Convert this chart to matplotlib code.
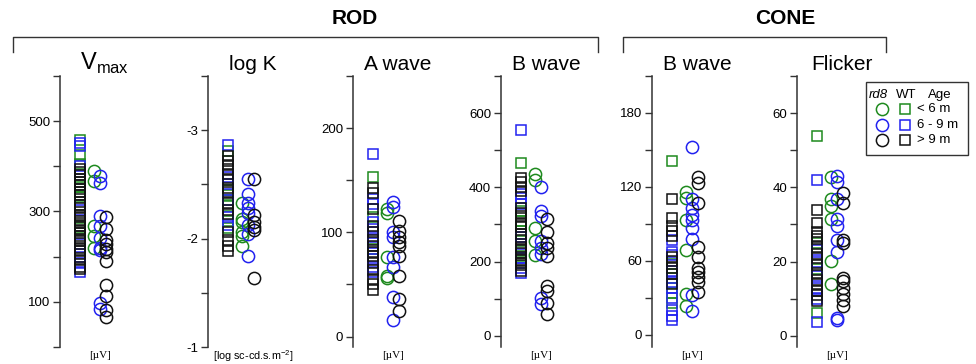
import matplotlib
matplotlib.use('Agg')
import matplotlib.pyplot as plt
from matplotlib.lines import Line2D

plt.rcParams['font.family'] = ['Liberation Sans', 'DejaVu Sans']
plt.rcParams['mathtext.fontset'] = 'custom'
plt.rcParams['mathtext.rm'] = 'Liberation Sans'

GREEN = '#1e8a1e'
BLUE = '#2222f0'
BLACK = '#111111'

# ---- data ----
# Vmax [uV]
vmax_wt_green = [458, 425, 405, 355, 333, 264]
vmax_wt_blue = [452, 445, 400, 304, 227, 200, 185, 167]
vmax_wt_black = [395, 388, 380, 372, 365, 358, 350, 343, 336, 322, 315, 308, 293, 287,
                 280, 274, 268, 258, 252, 246, 240, 234, 220, 213, 206, 193, 178, 172]
vmax_rd8_green = [389, 367, 267, 246, 220]
vmax_rd8_blue = [378, 364, 291, 267, 242, 220, 214, 98, 85]
vmax_rd8_black = [287, 262, 238, 228, 218, 210, 191, 138, 112, 82, 67]

# log K
logk_wt_green = [-2.81, -2.45, -2.40, -2.30, -2.16, -2.10]
logk_wt_blue = [-2.86, -2.57, -2.50, -2.36, -2.20, -2.13]
logk_wt_black = [-2.76, -2.72, -2.68, -2.64, -2.60, -2.54, -2.47, -2.43, -2.33, -2.26,
                 -2.23, -2.06, -1.99, -1.93, -1.89]
logk_rd8_green = [-2.33, -2.18, -2.15, -2.06, -2.02, -1.93]
logk_rd8_blue = [-2.55, -2.41, -2.33, -2.28, -2.24, -2.13, -2.04, -1.84]
logk_rd8_black = [-2.55, -2.22, -2.15, -2.11, -2.08, -1.64]

# rod A wave
awave_wt_green = [153, 115, 84]
awave_wt_blue = [175, 132, 127, 110, 103, 96, 90, 74, 67, 62]
awave_wt_black = [143, 138, 122, 106, 100, 93, 87, 81, 77, 71, 64, 55, 50, 45]
awave_rd8_green = [122, 119, 76, 58, 56]
awave_rd8_blue = [129, 124, 100, 96, 76, 67, 38, 16]
awave_rd8_black = [111, 101, 96, 91, 87, 77, 58, 36, 25]

# rod B wave
rodb_wt_green = [466, 337, 310, 283, 229, 216]
rodb_wt_blue = [555, 383, 372, 356, 265, 248, 211, 183, 170]
rodb_wt_black = [426, 414, 402, 390, 345, 330, 322, 300, 292, 275, 257, 240, 235, 222,
                 205, 195, 190, 176]
rodb_rd8_green = [437, 420, 291, 256, 218]
rodb_rd8_blue = [401, 337, 323, 256, 237, 221, 102, 86]
rodb_rd8_black = [315, 281, 251, 237, 216, 135, 121, 89, 59]

# cone B wave
coneb_wt_green = [141, 57, 46, 34, 26]
coneb_wt_blue = [77, 67, 65, 52, 43, 38, 30, 20, 15, 12]
coneb_wt_black = [110, 95, 88, 84, 80, 63, 60, 54, 49, 41]
coneb_rd8_green = [116, 111, 93, 69, 33, 23]
coneb_rd8_blue = [152, 110, 103, 97, 93, 87, 78, 32, 19]
coneb_rd8_black = [128, 123, 107, 71, 63, 54, 51, 47, 43, 35]

# flicker
flick_wt_green = [53.8, 25, 18, 6.1]
flick_wt_blue = [41.9, 23, 20, 16, 13, 10, 3.6]
flick_wt_black = [34, 30.5, 28, 27, 26, 24, 22, 21, 19, 17, 15, 14, 12, 11, 9.5]
flick_rd8_green = [42.7, 37, 34.9, 31.6, 20.3, 14]
flick_rd8_blue = [43, 41.4, 37, 31.6, 29.7, 25.9, 22.7, 4.9, 4.3]
flick_rd8_black = [38.4, 35.7, 25.9, 25.1, 15.7, 14.9, 13, 11.4, 9.7, 8.1]

age_labels = ['< 6 m', '6 - 9 m', '> 9 m']

panels = [
    # spine x, title, title size, ylim, ticks, shown labels, unit, wt, rd8
    (60, r'V$_{\mathrm{max}}$', 17, (0, 600), range(0, 601, 100), [100, 300, 500], '[µV]',
     (vmax_wt_green, vmax_wt_blue, vmax_wt_black), (vmax_rd8_green, vmax_rd8_blue, vmax_rd8_black)),
    (208, 'log K', 15, (-1, -3.5), [-3.5, -3, -2.5, -2, -1.5, -1], [-3, -2, -1], None,
     (logk_wt_green, logk_wt_blue, logk_wt_black), (logk_rd8_green, logk_rd8_blue, logk_rd8_black)),
    (353, 'A wave', 15, (-10, 250), range(0, 251, 50), [0, 100, 200], '[µV]',
     (awave_wt_green, awave_wt_blue, awave_wt_black), (awave_rd8_green, awave_rd8_blue, awave_rd8_black)),
    (501, 'B wave', 15, (-30, 700), range(0, 701, 100), [0, 200, 400, 600], '[µV]',
     (rodb_wt_green, rodb_wt_blue, rodb_wt_black), (rodb_rd8_green, rodb_rd8_blue, rodb_rd8_black)),
    (652, 'B wave', 15, (-10, 210), range(0, 211, 30), [0, 60, 120, 180], '[µV]',
     (coneb_wt_green, coneb_wt_blue, coneb_wt_black), (coneb_rd8_green, coneb_rd8_blue, coneb_rd8_black)),
    (797, 'Flicker', 15, (-3, 70), range(0, 71, 10), [0, 20, 40, 60], '[µV]',
     (flick_wt_green, flick_wt_blue, flick_wt_black), (flick_rd8_green, flick_rd8_blue, flick_rd8_black)),
]

W, H = 976, 364
fig = plt.figure(figsize=(W / 100, H / 100), dpi=100)

# overlay in pixel coordinates for header, brackets, units, legend
lax = fig.add_axes([0, 0, 1, 1])
lax.set_xlim(0, W)
lax.set_ylim(H, 0)
lax.axis('off')

colors = [GREEN, BLUE, BLACK]
rd8_x = [1.7, 2.0, 2.3]
TOP, BOT = 76, 347

for sx, title, tsize, ylim, ticks, shown, unit, wt, rd8 in panels:
    ax = fig.add_axes([sx / W, 1 - BOT / H, 100 / W, (BOT - TOP) / H])
    ax.patch.set_alpha(0)
    for c, vals in zip(colors, wt):
        ax.plot([1.0] * len(vals), vals, ls='none', marker='s', ms=7.2, mfc='none',
                mec=c, mew=1.1, clip_on=False)
    for c, xo, vals in zip(colors, rd8_x, rd8):
        ax.plot([xo] * len(vals), vals, ls='none', marker='o', ms=8.8, mfc='none',
                mec=c, mew=1.1, clip_on=False)
    ax.set_xlim(0, 5)
    ax.set_ylim(*ylim)
    ax.set_yticks(list(ticks))
    ax.set_yticklabels([('%g' % t if t in shown else '') for t in ticks])
    ax.tick_params(axis='y', direction='out', length=5, width=1, pad=2,
                   labelsize=9.5, color='#333333')
    ax.set_xticks([])
    for s in ['top', 'right', 'bottom']:
        ax.spines[s].set_visible(False)
    ax.spines['left'].set_color('#333333')
    ax.spines['left'].set_linewidth(1.1)

    lax.text(sx + 45, 70, title, fontsize=tsize, ha='center', va='baseline')
    if unit:
        lax.text(sx + 40, 356, unit, fontsize=8, ha='center', va='center',
                 family='Liberation Serif')
    else:
        lax.text(sx + 45, 356, r'[log sc-cd.s.m$^{-2}$]', fontsize=7.8,
                 ha='center', va='center')

# ROD / CONE headers with brackets
lax.text(355, 18, 'ROD', fontsize=15, fontweight='bold', ha='center', va='center')
lax.text(785, 18, 'CONE', fontsize=15, fontweight='bold', ha='center', va='center')
for x0, x1 in [(13, 598), (623, 886)]:
    lax.add_line(Line2D([x0, x0, x1, x1], [52, 37, 37, 52], color='#333333', lw=1.0))

# legend box
lax.add_patch(plt.Rectangle((866, 82), 102, 73, fill=False, ec='#333333', lw=1.0))
lax.text(878, 95, 'rd8', fontsize=9.5, style='italic', ha='center', va='center')
lax.text(906, 95, 'WT', fontsize=9.5, ha='center', va='center')
lax.text(940, 95, 'Age', fontsize=9.5, ha='center', va='center')
for i, (c, lab) in enumerate(zip(colors, age_labels)):
    yy = 109 + i * 15.5
    lax.plot([882], [yy], ls='none', marker='o', ms=8.8, mfc='none', mec=c, mew=1.1)
    lax.plot([905], [yy], ls='none', marker='s', ms=7.2, mfc='none', mec=c, mew=1.1)
    lax.text(917, yy, lab, fontsize=9.5, ha='left', va='center')

fig.savefig('out.png', dpi=100)
